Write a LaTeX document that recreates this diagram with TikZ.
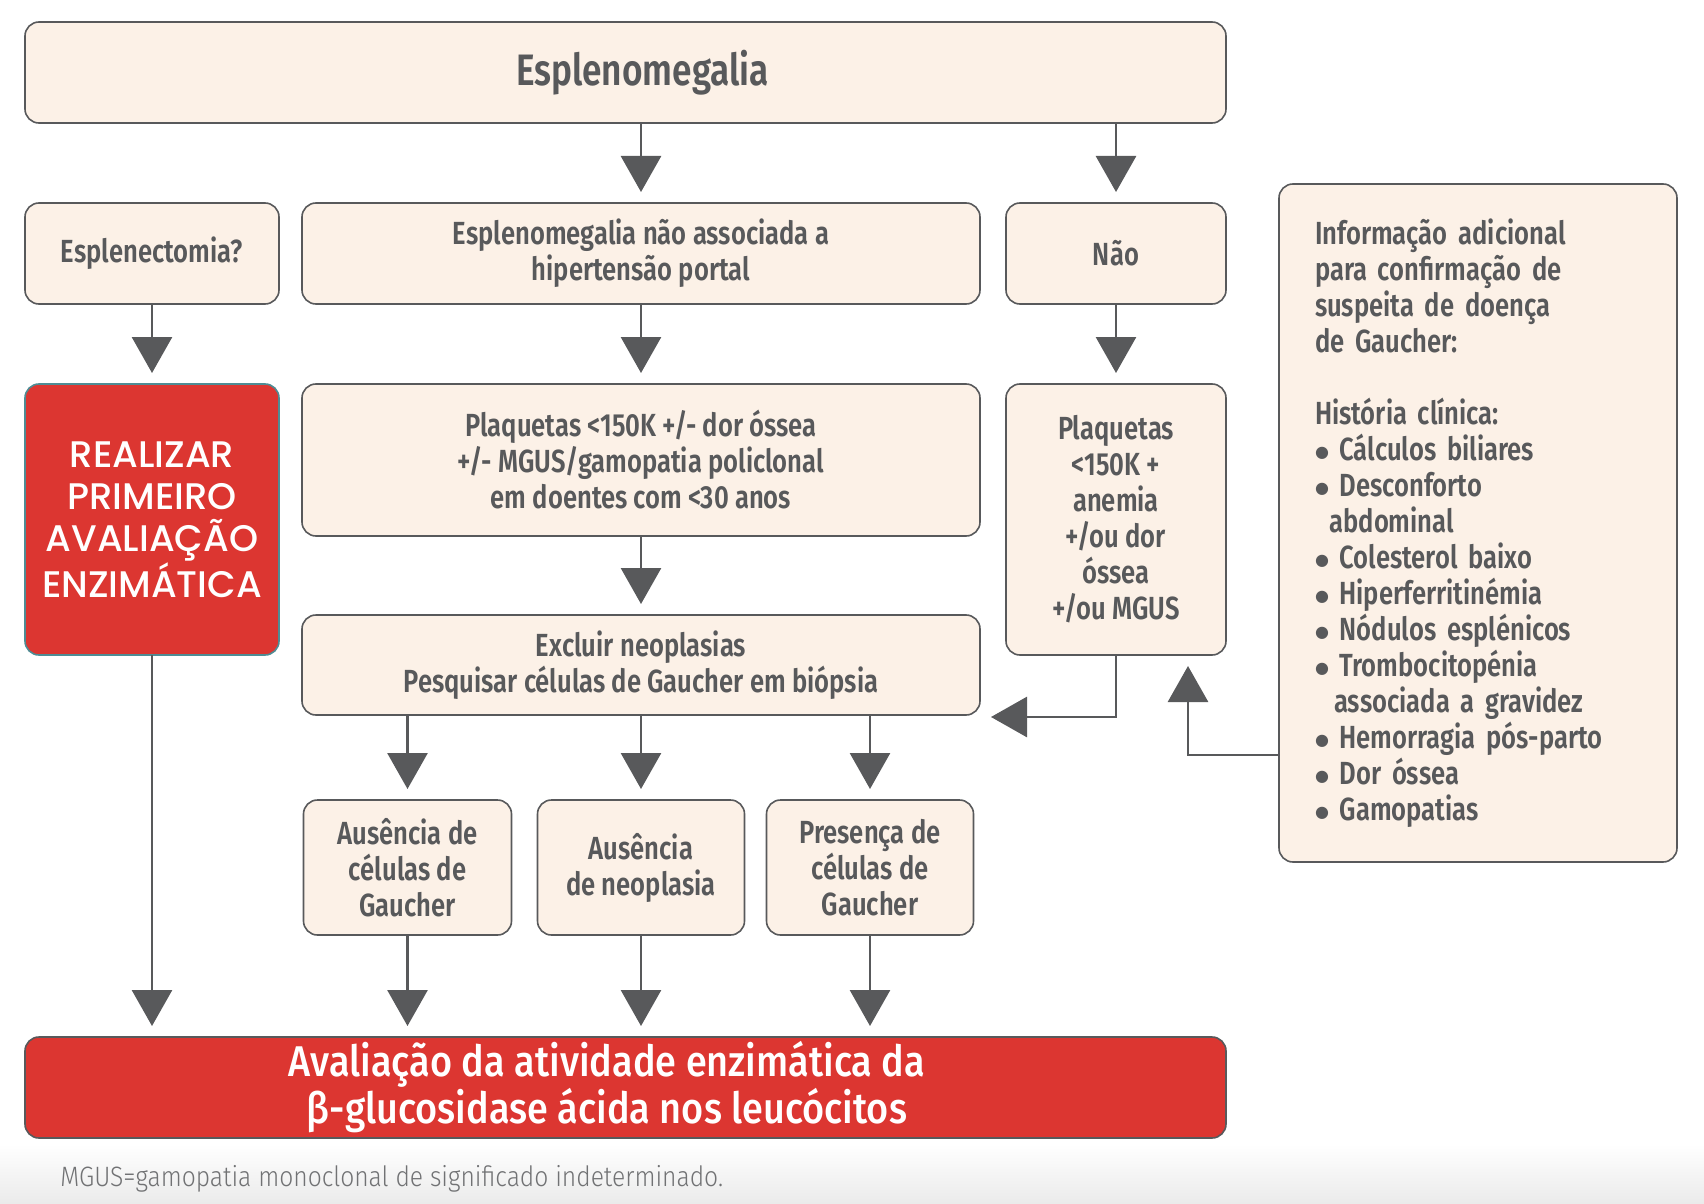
\documentclass[tikz,border=0pt]{standalone}
\usepackage{fontspec}
\setmainfont{Fira Sans}
\newfontfamily\boxfont{Fira Sans SemiBold}[FakeStretch=0.8]
\newfontfamily\bigfont{Fira Sans Medium}[FakeStretch=0.88]
\newfontfamily\redfont{Poppins Medium}
\newfontfamily\notefont{Fira Sans Light}[FakeStretch=0.88]
\newfontfamily\dotfont{DejaVu Sans}
\usetikzlibrary{arrows.meta,positioning}
\definecolor{boxfill}{HTML}{FCF1E7}
\definecolor{ink}{HTML}{58595B}
\definecolor{alertred}{HTML}{DC3631}
\definecolor{tealedge}{HTML}{4E8C94}
\newcommand\blt{\raisebox{1.3pt}{\dotfont\fontsize{8}{8}\selectfont ●}}
\newcommand\padr[1]{\hbox to #1{}}

\begin{document}
\begin{tikzpicture}[
  box/.style={draw=ink,line width=0.8pt,fill=boxfill,rounded corners=7pt,text=ink,align=center,
    inner sep=0pt,outer sep=0pt,font=\boxfont\fontsize{16}{18}\selectfont},
  redbox/.style={box,fill=alertred,text=white},
  arr/.style={draw=ink,line width=1.4pt,-{Triangle[width=20pt,length=18pt]},shorten >=5.5pt}]
\useasboundingbox (0,0) rectangle (852pt,-602pt);
\shade[top color=white,bottom color=black!8] (0,-572pt) rectangle (852pt,-602pt);
% top row
\node[box,minimum width=600.5pt,minimum height=50.5pt,anchor=north west,
  font=\boxfont\fontsize{22}{24}\selectfont] (spleno) at (12.5pt,-11pt) {\padr{17pt}Esplenomegalia};
\node[box,minimum width=127pt,minimum height=50.5pt,below=40pt of spleno.south west,anchor=north west] (esplen) {Esplenectomia?};
\node[box,minimum width=339pt,minimum height=50.5pt,right=11.5pt of esplen] (naoport) {Esplenomegalia não associada a\\hipertensão portal};
\node[box,minimum width=110pt,minimum height=50.5pt,right=13pt of naoport] (nao) {Não};
\node[box,text width=163pt,inner xsep=18pt,minimum height=339pt,align=left,
  right=26.5pt of nao.north east,anchor=north west,yshift=9.5pt] (info)
  {Informação adicional\\para confirmação de\\suspeita de doença\\de Gaucher:\\[18pt]
   História clínica:\\\blt\ Cálculos biliares\\\blt\ Desconforto\\\hspace*{0.45em}abdominal\\
   \blt\ Colesterol baixo\\\blt\ Hiperferritinémia\\\blt\ Nódulos esplénicos\\\blt\ Trombocitopénia\\
   \hspace*{0.6em}associada a gravidez\\\blt\ Hemorragia pós-parto\\\blt\ Dor óssea\\\blt\ Gamopatias};
% second level
\node[redbox,draw=tealedge,minimum width=127pt,minimum height=135.5pt,below=40pt of esplen,
  font=\redfont\fontsize{18.5}{21}\selectfont] (realiz) {REALIZAR\\PRIMEIRO\\AVALIAÇÃO\\ENZIMÁTICA};
\node[box,minimum width=339pt,minimum height=76pt,below=40pt of naoport] (plaqmid)
  {Plaquetas <150K +/- dor óssea\\+/- MGUS/gamopatia policlonal\\em doentes com <30 anos};
\node[box,minimum width=110pt,minimum height=135.5pt,below=40pt of nao] (plaqr)
  {Plaquetas\\<150K +\\anemia\\+/ou dor\\óssea\\+/ou MGUS};
\node[box,minimum width=339pt,minimum height=50pt,below=39.5pt of plaqmid] (excl)
  {Excluir neoplasias\\Pesquisar células de Gaucher em biópsia};
% results
\node[box,minimum width=103.5pt,minimum height=67.5pt,below=42.5pt of excl] (ausn) {Ausência\\de neoplasia};
\node[box,minimum width=104pt,minimum height=67.5pt,left=13pt of ausn] (ausc) {Ausência de\\células de\\Gaucher};
\node[box,minimum width=103.5pt,minimum height=67.5pt,right=11pt of ausn] (presc) {Presença de\\células de\\Gaucher};
\coordinate (finref) at (spleno.south |- ausn.south);
\node[redbox,minimum width=600.5pt,minimum height=50.5pt,below=51pt of finref,
  font=\bigfont\fontsize{21.5}{23.5}\selectfont] (enzima)
  {Avaliação da atividade enzimática da\padr{18.5pt}\\β-glucosidase ácida nos leucócitos\padr{18.5pt}};
\node[below right=20.5pt and 17.5pt of enzima.south west,anchor=west,text=ink!85,
  font=\notefont\fontsize{14}{15}\selectfont,inner sep=0pt] (nota)
  {MGUS=gamopatia monoclonal de significado indeterminado.};
% connectors
\draw[arr] (spleno.south -| naoport) -- (naoport);
\draw[arr] (spleno.south -| nao) -- (nao);
\draw[arr] (esplen) -- (realiz);
\draw[arr] (naoport) -- (plaqmid);
\draw[arr] (nao) -- (plaqr);
\draw[arr] (plaqmid) -- (excl);
\draw[arr] (plaqr) |- ([yshift=-1pt]excl.south east);
\draw[arr] ([yshift=53.5pt]info.south west) -| ([xshift=-19pt]plaqr.south east);
\draw[arr] (excl.south -| ausc) -- (ausc);
\draw[arr] (excl.south -| ausn) -- (ausn);
\draw[arr] (excl.south -| presc) -- (presc);
\draw[arr] (realiz) -- (realiz |- enzima.north);
\draw[arr] (ausc) -- (ausc |- enzima.north);
\draw[arr] (ausn) -- (ausn |- enzima.north);
\draw[arr] (presc) -- (presc |- enzima.north);
\end{tikzpicture}
\end{document}
